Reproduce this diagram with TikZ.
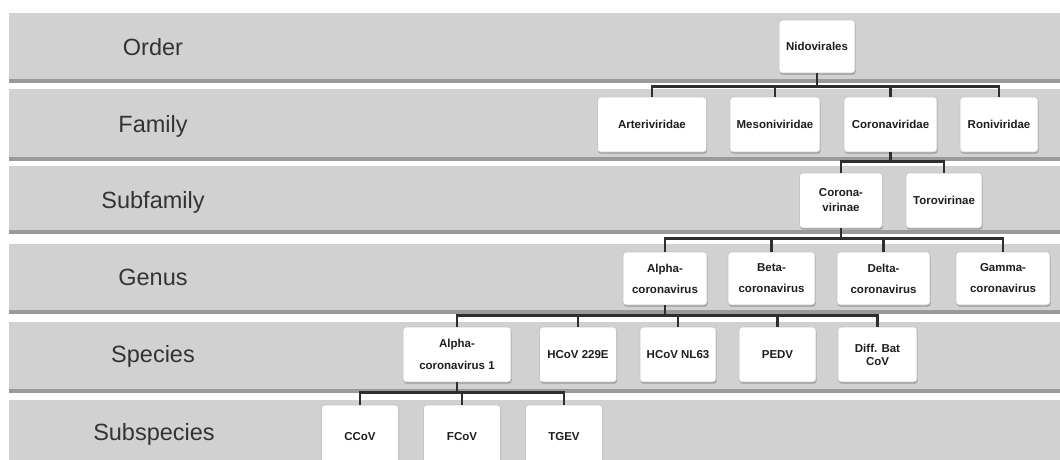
\documentclass[tikz,border=0pt]{standalone}
\usepackage{fontspec}
\setmainfont{Liberation Sans}
\usetikzlibrary{shadows}
\definecolor{bandgray}{HTML}{D1D1D1}
\definecolor{bandline}{HTML}{9A9A9A}
\definecolor{conncol}{HTML}{2E2E2E}
\definecolor{labcol}{HTML}{333333}
\definecolor{boxtext}{HTML}{1E1E1E}
\begin{document}
\begin{tikzpicture}[x=1pt,y=-1pt,
  lab/.style={anchor=base, text=labcol, font=\fontsize{23.5}{26}\selectfont, inner sep=0pt},
  box/.style={draw=gray!45, fill=white, rounded corners=3pt, line width=0.8pt,
    align=center, text=boxtext, inner sep=1pt,
    font=\bfseries\fontsize{11.5}{13}\selectfont,
    drop shadow={shadow xshift=0.6pt, shadow yshift=-1.6pt, fill=black!50, opacity=0.7}},
  conn/.style={draw=conncol, line width=2.4pt, line join=miter}]
\useasboundingbox (0,0) rectangle (1060,459);
\fill[white] (0,0) rectangle (1060,459);
% bands
\foreach \t/\b in {13/83, 89/161, 166/234, 244/314, 322/393, 400/470}{
  \fill[bandgray] (9,\t) rectangle (1060,\b);
  \fill[bandline] (9,\b-4) rectangle (1060,\b);
}
% rank labels
\node[lab] (lorder) at (153,55) {Order};
\node[lab] (lfam) at (153,132) {Family};
\node[lab] (lsubf) at (153,208) {Subfamily};
\node[lab] (lgen) at (153,285) {Genus};
\node[lab] (lspec) at (153,362) {Species};
\node[lab] (lsubs) at (154,440) {Subspecies};
% order
\node[box, minimum width=76, minimum height=53] (nido) at (817,46.5) {Nidovirales};
% family
\node[box, minimum width=109, minimum height=55] (art) at (652,124.5) {Arteriviridae};
\node[box, minimum width=90, minimum height=55] (meso) at (775,124.5) {Mesoniviridae};
\node[box, minimum width=93, minimum height=55] (corv) at (890.5,124.5) {Coronaviridae};
\node[box, minimum width=78, minimum height=55] (roni) at (999,124.5) {Roniviridae};
% subfamily
\node[box, minimum width=83, minimum height=55, font=\bfseries\fontsize{11.5}{15}\selectfont] (cvir) at (841,200.5) {Corona-\\virinae};
\node[box, minimum width=76, minimum height=55] (tvir) at (944,200.5) {Torovirinae};
% genus
\node[box, minimum width=84, minimum height=53, font=\bfseries\fontsize{11.5}{21}\selectfont] (alpha) at (665,278.5) {Alpha-\\coronavirus};
\node[box, minimum width=87, minimum height=53, font=\bfseries\fontsize{11.5}{21}\selectfont] (beta) at (771.5,278.5) {Beta-\\coronavirus};
\node[box, minimum width=93, minimum height=53, font=\bfseries\fontsize{11.5}{21}\selectfont] (delta) at (883.5,278.5) {Delta-\\coronavirus};
\node[box, minimum width=94, minimum height=53, font=\bfseries\fontsize{11.5}{21}\selectfont] (gamma) at (1003,278.5) {Gamma-\\coronavirus};
% species
\node[box, minimum width=108, minimum height=55, font=\bfseries\fontsize{11.5}{22}\selectfont] (aone) at (457,354.5) {Alpha-\\coronavirus 1};
\node[box, minimum width=77, minimum height=55] (e229) at (578,354.5) {HCoV 229E};
\node[box, minimum width=76, minimum height=55] (nl63) at (678,354.5) {HCoV NL63};
\node[box, minimum width=77, minimum height=55] (pedv) at (777.5,354.5) {PEDV};
\node[box, minimum width=79, minimum height=55, font=\bfseries\fontsize{11.5}{13}\selectfont] (bat) at (877.5,354.5) {Diff. Bat\\CoV};
% subspecies
\node[box, minimum width=77, minimum height=64] (ccov) at (360,437) {CCoV};
\node[box, minimum width=77, minimum height=64] (fcov) at (462,437) {FCoV};
\node[box, minimum width=77, minimum height=64] (tgev) at (564,437) {TGEV};
% connectors
\foreach \c in {art,meso,corv,roni}
  \draw[conn] (\c.north) -- ++(0,-10) -| (nido.south);
\foreach \c in {cvir,tvir}
  \draw[conn] (\c.north) -- ++(0,-11) -| (corv.south);
\foreach \c in {alpha,beta,delta,gamma}
  \draw[conn] (\c.north) -- ++(0,-13) -| (cvir.south);
\foreach \c in {aone,e229,nl63,pedv,bat}
  \draw[conn] (\c.north) -- ++(0,-11) -| (alpha.south);
\foreach \c in {ccov,fcov,tgev}
  \draw[conn] (\c.north) -- ++(0,-12) -| (aone.south);
\end{tikzpicture}
\end{document}
